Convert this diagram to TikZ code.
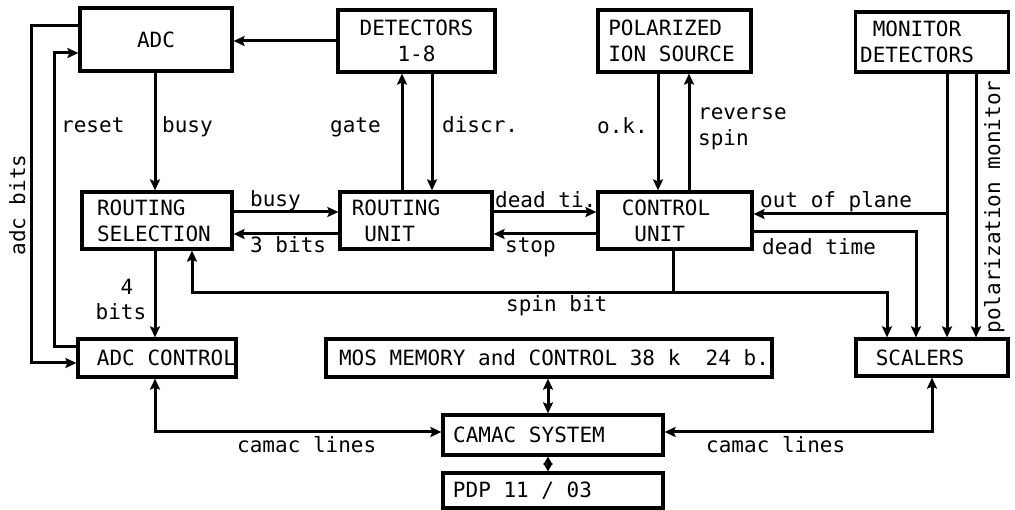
\documentclass[tikz,border=0pt]{standalone}
\usepackage{fontspec}
\newfontfamily\mono[WordSpace={1,0,0}]{DejaVu Sans Mono}
\usetikzlibrary{arrows.meta}
\newcommand{\diagfont}{\mono\fontsize{21}{26}\selectfont\hyphenpenalty=10000\relax\exhyphenpenalty=10000\relax}
\begin{document}
\begin{tikzpicture}[x=1pt,y=-1pt,
  txt/.style={font=\diagfont},
  box/.style={draw, line width=3.2pt, inner sep=0pt, align=center, txt},
  lbox/.style={align=left},
  lbl/.style={inner sep=0pt, txt},
  tip/.tip={Stealth[length=11pt,width=10pt,inset=2pt]},
  stip/.tip={Stealth[length=8pt,width=9pt,inset=1.5pt]},
  arr/.style={line width=3pt, -tip},
  darr/.style={line width=3pt, tip-tip},
  sdarr/.style={line width=3pt, stip-stip},
  ln/.style={line width=3pt}]
\useasboundingbox (0,0) rectangle (1015,510);

% boxes
\node[box, minimum width=152pt, minimum height=63pt] (adc) at (156,39.5) {ADC};
\node[box, minimum width=157pt, minimum height=62pt] (det) at (416.5,41) {DETECTORS\\1-8};
\node[box, lbox, minimum width=153pt, minimum height=62pt] (pol) at (674.5,41) {\hspace*{-6pt}POLARIZED\\\hspace*{-6pt}ION SOURCE};
\node[box, minimum width=153pt, minimum height=60pt] (mon) at (932,42) {\hspace*{-30pt}MONITOR\\\hspace*{-30pt}DETECTORS};
\node[box, lbox, minimum width=150pt, minimum height=57pt] (rs) at (157,220.5) {\hspace*{-6pt}ROUTING\\\hspace*{-6pt}SELECTION};
\node[box, lbox, minimum width=152pt, minimum height=57pt] (ru) at (416,220.5) {\hspace*{-40pt}ROUTING\\\hspace*{-40pt}\hphantom{U}UNIT};
\node[box, lbox, minimum width=154pt, minimum height=57pt] (cu) at (675,220.5) {\hspace*{-18pt}CONTROL\\\hspace*{-18pt}\hphantom{U}UNIT};
\node[box, minimum width=150pt, minimum height=38pt] (adcc) at (157,358) {\hspace*{19pt}ADC CONTROL};
\node[box, minimum width=446pt, minimum height=38pt] (mos) at (549,358) {\hspace*{10pt}MOS MEMORY and CONTROL 38 k\ \ 24 b.};
\node[box, minimum width=152pt, minimum height=37pt] (scal) at (932,357.5) {\hspace*{-24pt}SCALERS};
\node[box, minimum width=220pt, minimum height=40pt] (camac) at (553,435) {\hspace*{-48pt}CAMAC SYSTEM};
\node[box, minimum width=220pt, minimum height=35pt] (pdp) at (553,490.5) {\hspace*{-61pt}PDP 11 / 03};

% helper coordinates
\coordinate (abx) at (31,0);
\coordinate (rx) at (54,0);
\coordinate (bx) at (155,0);
\coordinate (sl) at (192,0);
\coordinate (gx) at (402,0);
\coordinate (dx) at (432,0);
\coordinate (mmx) at (548,0);
\coordinate (okx) at (658,0);
\coordinate (sx) at (673,0);
\coordinate (rvx) at (689,0);
\coordinate (sr) at (887,0);
\coordinate (dtx) at (916,0);
\coordinate (mx) at (947,0);
\coordinate (px) at (976,0);
\coordinate (y1) at (0,212);
\coordinate (y2) at (0,234);
\coordinate (yo) at (0,214);
\coordinate (yd) at (0,232);
\coordinate (ys) at (0,293);
\coordinate (yc) at (0,432);
\coordinate (a1) at ([yshift=13.5pt]adc.west);
\coordinate (a2) at ([yshift=-5pt]adcc.west);
\coordinate (r1) at ([yshift=11pt]adcc.west);
\coordinate (r2) at ([yshift=-13.5pt]adc.west);

% connectors
\draw[arr] (det.west) -- (det.west -| adc.east);
\draw[arr] (a1) -- (a1 -| abx) -- (a2 -| abx) -- (a2);
\draw[arr] (r1) -- (r1 -| rx) -- (r2 -| rx) -- (r2);
\draw[arr] (adc.south -| bx) -- (rs.north -| bx);
\draw[arr] (rs.east |- y1) -- (ru.west |- y1);
\draw[arr] (ru.west |- y2) -- (rs.east |- y2);
\draw[arr] (ru.north -| gx) -- (det.south -| gx);
\draw[arr] (det.south -| dx) -- (ru.north -| dx);
\draw[arr] (ru.east |- y1) -- (cu.west |- y1);
\draw[arr] (cu.west |- y2) -- (ru.east |- y2);
\draw[arr] (pol.south -| okx) -- (cu.north -| okx);
\draw[arr] (cu.north -| rvx) -- (pol.south -| rvx);
\draw[arr] (mon.south -| mx) -- (scal.north -| mx);
\draw[arr] (mx |- yo) -- (cu.east |- yo);
\draw[arr] (cu.east |- yd) -| (scal.north -| dtx);
\draw[arr] (mon.south -| px) -- (scal.north -| px);
\draw[ln] (cu.south -| sx) -- (sx |- ys);
\draw[arr] (sx |- ys) -| (rs.south -| sl);
\draw[arr] (sx |- ys) -| (scal.north -| sr);
\draw[arr] (rs.south -| bx) -- (adcc.north -| bx);
\draw[darr] (adcc.south -| bx) |- (camac.west |- yc);
\draw[darr] (scal.south) |- (camac.east |- yc);
\draw[darr] (mos.south -| mmx) -- (camac.north -| mmx);
\draw[sdarr] (camac.south -| mmx) -- (pdp.north -| mmx);

% labels
\node[lbl, rotate=90, anchor=base] (l-adcbits) at (25,205) {adc bits};
\node[lbl, anchor=base west] (l-reset) at (61,133) {reset};
\node[lbl, anchor=base west] (l-busy1) at (162,133) {busy};
\node[lbl, anchor=base west] (l-busy2) at (250,207) {busy};
\node[lbl, anchor=base west] (l-3bits) at (250,253) {3 bits};
\node[lbl, anchor=base west] (l-gate) at (330,133) {gate};
\node[lbl, anchor=base west] (l-discr) at (442,133) {discr.};
\node[lbl, anchor=base west] (l-deadti) at (495,208) {dead ti.};
\node[lbl, anchor=base west] (l-stop) at (505,253) {stop};
\node[lbl, anchor=base west] (l-ok) at (597,134) {o.k.};
\node[lbl, anchor=base west] (l-rev1) at (698,120) {reverse};
\node[lbl, anchor=base west] (l-rev2) at (698,146) {spin};
\node[lbl, anchor=base west] (l-oop) at (760,208) {out of plane};
\node[lbl, anchor=base west] (l-dt) at (762,255) {dead time};
\node[lbl, rotate=90, anchor=base] (l-pol) at (1000,207) {polarization monitor};
\node[lbl, anchor=base] (l-4) at (127,295) {4};
\node[lbl, anchor=base] (l-bits) at (121,320) {bits};
\node[lbl, anchor=base west] (l-spin) at (506,312) {spin bit};
\node[lbl, anchor=base west] (l-cam1) at (237,453) {camac lines};
\node[lbl, anchor=base west] (l-cam2) at (706,453) {camac lines};
\end{tikzpicture}
\end{document}
